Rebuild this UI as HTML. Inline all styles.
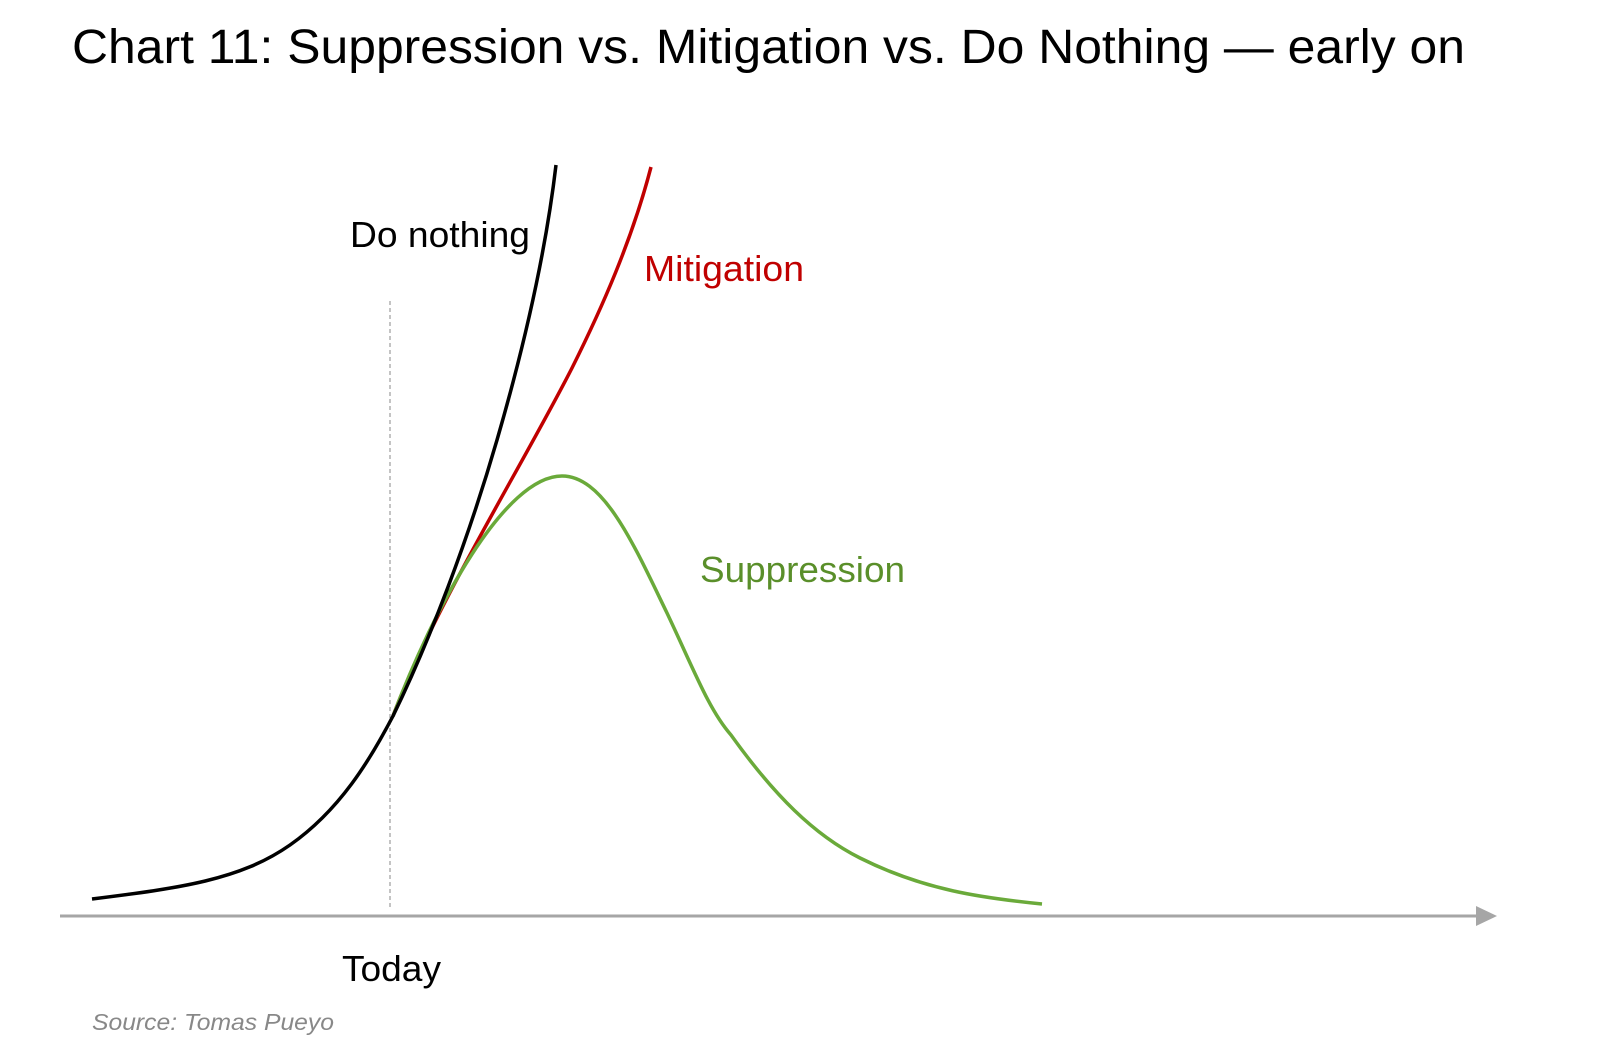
<!DOCTYPE html>
<html><head><meta charset="utf-8"><style>
html,body{margin:0;padding:0;background:#fff;}
svg{display:block;}
</style></head><body>
<svg width="1600" height="1055" viewBox="0 0 1600 1055" xmlns="http://www.w3.org/2000/svg">
<text x="72" y="63" font-family="Liberation Sans, sans-serif" font-size="48" fill="#000" textLength="1393" lengthAdjust="spacingAndGlyphs">Chart 11: Suppression vs. Mitigation vs. Do Nothing — early on</text>
<line x1="390" y1="301" x2="390" y2="908" stroke="#888" stroke-width="1" stroke-dasharray="4,3"/>
<line x1="60" y1="916" x2="1480" y2="916" stroke="#a6a6a6" stroke-width="3"/>
<polygon points="1476,906 1497,916 1476,926" fill="#a6a6a6"/>
<path d="M393,716 C435,605 520,470 572,368 C602,308 632,240 651,167" fill="none" stroke="#c00000" stroke-width="3.5"/>
<path d="M393,716 C435,605 505,476 562,476 C604,476 634,545 667,613 C694,670 709,710 731,735 C774,795 814,835 860,858 C924,890 982,898 1042,904" fill="none" stroke="#6aaa3a" stroke-width="3.5"/>
<path d="M92,899 C180,888 240,880 290,845 C340,810 370,760 393,716 C430,640 468,540 497,440 C526,340 546,250 556,165" fill="none" stroke="#000" stroke-width="3.5"/>
<text x="350" y="247" font-family="Liberation Sans, sans-serif" font-size="36" fill="#000" textLength="180" lengthAdjust="spacingAndGlyphs">Do nothing</text>
<text x="644" y="281" font-family="Liberation Sans, sans-serif" font-size="36" fill="#c00000" textLength="160" lengthAdjust="spacingAndGlyphs">Mitigation</text>
<text x="700" y="582" font-family="Liberation Sans, sans-serif" font-size="36" fill="#5a8f2a" textLength="205" lengthAdjust="spacingAndGlyphs">Suppression</text>
<text x="342" y="981" font-family="Liberation Sans, sans-serif" font-size="36" fill="#000" textLength="99" lengthAdjust="spacingAndGlyphs">Today</text>
<text x="92" y="1030" font-family="Liberation Sans, sans-serif" font-size="23" font-style="italic" fill="#888" textLength="242" lengthAdjust="spacingAndGlyphs">Source: Tomas Pueyo</text>
</svg>
</body></html>
